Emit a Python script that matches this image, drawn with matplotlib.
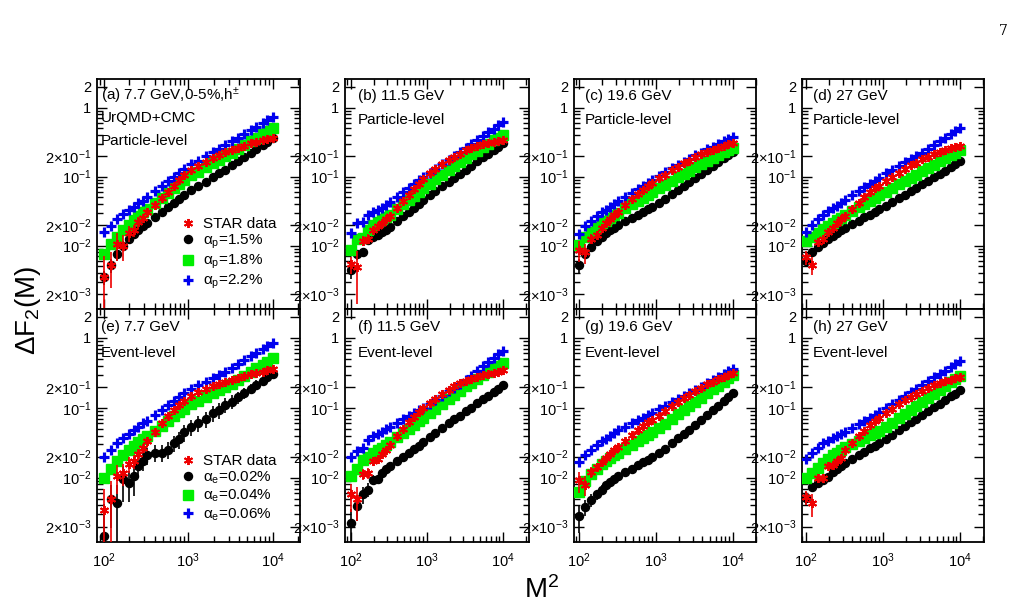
import matplotlib.pyplot as plt
from matplotlib.ticker import FixedLocator, NullFormatter

plt.rcParams['font.family'] = ['Liberation Sans', 'DejaVu Sans']
plt.rcParams['mathtext.fontset'] = 'custom'
plt.rcParams['mathtext.rm'] = 'Liberation Sans'
plt.rcParams['mathtext.it'] = 'Liberation Sans:italic'

# M^2 bins (M = 10 ... 100)
M2 = [100, 121, 144, 169, 196, 225, 256, 289, 324, 400, 484, 576, 676, 784, 900,
      1089, 1296, 1600, 1936, 2304, 2704, 3249, 3844, 4624, 5476, 6400, 7569, 8649, 10000]

# ---- (a) 7.7 GeV particle-level
star_a = [0.00347, 0.00525, 0.0105, 0.0100, 0.0151, 0.0166, 0.0219, 0.0251, 0.0304, 0.0391, 0.0492, 0.0605, 0.0735, 0.0877, 0.104,
          0.126, 0.143, 0.164, 0.184, 0.204, 0.224, 0.245, 0.263, 0.282, 0.302, 0.316, 0.335, 0.351, 0.367]
star_err_a = [0.0035, 0.0028, 0.0045, 0.004, 0.004, 0.0035, 0.004, 0.0035, 0.0035, 0.003, 0.003, 0.003, 0.003, 0.003, 0.003,
              0.003, 0.003, 0.003, 0.003, 0.003, 0.003, 0.003, 0.003, 0.003, 0.003, 0.003, 0.003, 0.003, 0.003]
black_a = [0.00347, 0.00513, 0.00741, 0.0100, 0.0126, 0.0148, 0.0170, 0.0191, 0.0214, 0.0258, 0.0306, 0.0358, 0.0414, 0.0473, 0.0536,
           0.0628, 0.0718, 0.0841, 0.0973, 0.111, 0.125, 0.145, 0.166, 0.193, 0.221, 0.252, 0.289, 0.322, 0.363]
black_err_a = [0.0008, 0.0012, 0.0015, 0.0018, 0.0018, 0.0015, 0.0015, 0.0012, 0.0012, 0.001, 0.001, 0.001, 0.001, 0.001, 0.001,
               0.001, 0.001, 0.001, 0.001, 0.001, 0.001, 0.001, 0.001, 0.001, 0.001, 0.001, 0.001, 0.001, 0.001]
green_a = [0.00759, 0.0105, 0.0132, 0.0166, 0.0200, 0.0234, 0.0269, 0.0302, 0.0339, 0.0413, 0.0494, 0.0581, 0.0676, 0.0776, 0.0885,
           0.104, 0.117, 0.136, 0.155, 0.175, 0.196, 0.223, 0.252, 0.288, 0.324, 0.363, 0.410, 0.452, 0.501]
blue_a = [0.0155, 0.0195, 0.0240, 0.0282, 0.0324, 0.0363, 0.0407, 0.0447, 0.0501, 0.0608, 0.0724, 0.0849, 0.0986, 0.113, 0.128,
          0.150, 0.169, 0.196, 0.224, 0.253, 0.283, 0.323, 0.366, 0.419, 0.474, 0.532, 0.603, 0.665, 0.741]

# ---- (b) 11.5 GeV particle-level
star_b = [0.00537, 0.00490, 0.0117, 0.0126, 0.0166, 0.0191, 0.0214, 0.0240, 0.0271, 0.0348, 0.0439, 0.0540, 0.0655, 0.0782, 0.0923,
          0.112, 0.129, 0.151, 0.174, 0.195, 0.216, 0.240, 0.260, 0.279, 0.295, 0.309, 0.320, 0.331, 0.339]
star_err_b = [0.0015, 0.0035, 0.002, 0.002, 0.002, 0.002, 0.002, 0.002, 0.002, 0.002, 0.002, 0.002, 0.002, 0.002, 0.002,
              0.002, 0.002, 0.002, 0.002, 0.002, 0.002, 0.002, 0.002, 0.002, 0.002, 0.002, 0.002, 0.002, 0.002]
black_b = [0.00447, 0.00741, 0.00794, 0.0120, 0.0132, 0.0141, 0.0155, 0.0166, 0.0186, 0.0224, 0.0265, 0.0308, 0.0355, 0.0405, 0.0457,
           0.0536, 0.0614, 0.0723, 0.0839, 0.0959, 0.109, 0.126, 0.143, 0.166, 0.189, 0.213, 0.243, 0.270, 0.302]
black_err_b = [0.0012, 0.0012, 0.0012, 0.001, 0.001, 0.001, 0.001, 0.001, 0.001, 0.001, 0.001, 0.001, 0.001, 0.001, 0.001,
               0.001, 0.001, 0.001, 0.001, 0.001, 0.001, 0.001, 0.001, 0.001, 0.001, 0.001, 0.001, 0.001, 0.001]
green_b = [0.00851, 0.0126, 0.0129, 0.0170, 0.0200, 0.0219, 0.0240, 0.0263, 0.0281, 0.0337, 0.0397, 0.0461, 0.0530, 0.0601, 0.0676,
           0.0793, 0.0908, 0.107, 0.124, 0.142, 0.161, 0.185, 0.209, 0.237, 0.267, 0.298, 0.335, 0.368, 0.407]
blue_b = [0.0151, 0.0209, 0.0219, 0.0275, 0.0309, 0.0331, 0.0355, 0.0389, 0.0426, 0.0506, 0.0592, 0.0681, 0.0778, 0.0877, 0.0982,
          0.114, 0.130, 0.152, 0.175, 0.199, 0.224, 0.256, 0.292, 0.338, 0.385, 0.436, 0.497, 0.551, 0.617]

# ---- (c) 19.6 GeV particle-level
star_c = [0.00871, 0.00794, 0.0126, 0.0141, 0.0178, 0.0209, 0.0240, 0.0275, 0.0309, 0.0389, 0.0468, 0.0550, 0.0646, 0.0724, 0.0813,
          0.0955, 0.107, 0.123, 0.138, 0.155, 0.170, 0.191, 0.209, 0.229, 0.245, 0.263, 0.282, 0.295, 0.309]
star_err_c = [0.003, 0.0025, 0.002, 0.002, 0.002, 0.002, 0.002, 0.002, 0.002, 0.002, 0.002, 0.002, 0.002, 0.002, 0.002,
              0.002, 0.002, 0.002, 0.002, 0.002, 0.002, 0.002, 0.002, 0.002, 0.002, 0.002, 0.002, 0.002, 0.002]
black_c = [0.00525, 0.00759, 0.00955, 0.0115, 0.0135, 0.0151, 0.0166, 0.0182, 0.0198, 0.0224, 0.0252, 0.0279, 0.0308, 0.0336, 0.0365,
           0.0415, 0.0474, 0.0556, 0.0643, 0.0733, 0.0828, 0.0953, 0.109, 0.126, 0.143, 0.162, 0.185, 0.205, 0.229]
black_err_c = [0.0012, 0.001, 0.001, 0.001, 0.001, 0.001, 0.001, 0.001, 0.001, 0.001, 0.001, 0.001, 0.001, 0.001, 0.001,
               0.001, 0.001, 0.001, 0.001, 0.001, 0.001, 0.001, 0.001, 0.001, 0.001, 0.001, 0.001, 0.001, 0.001]
green_c = [0.0102, 0.0135, 0.0158, 0.0186, 0.0209, 0.0229, 0.0251, 0.0275, 0.0300, 0.0346, 0.0394, 0.0444, 0.0494, 0.0547, 0.0601,
           0.0682, 0.0762, 0.0873, 0.0986, 0.110, 0.122, 0.137, 0.151, 0.168, 0.185, 0.203, 0.224, 0.242, 0.263]
blue_c = [0.0148, 0.0191, 0.0229, 0.0269, 0.0302, 0.0331, 0.0363, 0.0398, 0.0435, 0.0505, 0.0579, 0.0656, 0.0738, 0.0820, 0.0906,
          0.103, 0.115, 0.131, 0.147, 0.164, 0.181, 0.203, 0.223, 0.247, 0.271, 0.296, 0.325, 0.351, 0.380]

# ---- (d) 27 GeV particle-level
star_d = [0.00676, 0.00525, 0.0112, 0.0126, 0.0158, 0.0182, 0.0209, 0.0240, 0.0269, 0.0339, 0.0417, 0.0501, 0.0589, 0.0676, 0.0741,
          0.0851, 0.0977, 0.112, 0.129, 0.145, 0.158, 0.178, 0.195, 0.214, 0.229, 0.243, 0.257, 0.266, 0.275]
star_err_d = [0.0015, 0.0015, 0.0015, 0.0015, 0.0015, 0.0015, 0.0015, 0.0015, 0.0015, 0.0015, 0.0015, 0.0015, 0.0015, 0.0015, 0.0015,
              0.0015, 0.0015, 0.0015, 0.0015, 0.0015, 0.0015, 0.0015, 0.0015, 0.0015, 0.0015, 0.0015, 0.0015, 0.0015, 0.0015]
black_d = [0.00589, 0.00794, 0.00955, 0.0110, 0.0126, 0.0138, 0.0151, 0.0166, 0.0181, 0.0205, 0.0230, 0.0255, 0.0281, 0.0306, 0.0333,
           0.0375, 0.0422, 0.0484, 0.0548, 0.0615, 0.0684, 0.0773, 0.0867, 0.0982, 0.110, 0.122, 0.137, 0.150, 0.166]
black_err_d = [0.001, 0.001, 0.001, 0.001, 0.001, 0.001, 0.001, 0.001, 0.001, 0.001, 0.001, 0.001, 0.001, 0.001, 0.001,
               0.001, 0.001, 0.001, 0.001, 0.001, 0.001, 0.001, 0.001, 0.001, 0.001, 0.001, 0.001, 0.001, 0.001]
green_d = [0.0115, 0.0132, 0.0151, 0.0174, 0.0195, 0.0214, 0.0234, 0.0251, 0.0274, 0.0314, 0.0356, 0.0400, 0.0445, 0.0490, 0.0537,
           0.0607, 0.0676, 0.0769, 0.0867, 0.0964, 0.107, 0.120, 0.133, 0.149, 0.166, 0.184, 0.204, 0.222, 0.245]
blue_d = [0.0158, 0.0200, 0.0240, 0.0275, 0.0316, 0.0347, 0.0380, 0.0417, 0.0455, 0.0532, 0.0612, 0.0695, 0.0783, 0.0875, 0.0968,
          0.111, 0.124, 0.142, 0.160, 0.179, 0.198, 0.223, 0.253, 0.290, 0.328, 0.368, 0.417, 0.460, 0.513]

# ---- (e) 7.7 GeV event-level
star_e = [0.00347, 0.00490, 0.0105, 0.0117, 0.0158, 0.0174, 0.0219, 0.0263, 0.0339, 0.0457, 0.0603, 0.0759, 0.0933, 0.110, 0.126,
          0.148, 0.166, 0.186, 0.204, 0.221, 0.237, 0.254, 0.269, 0.285, 0.302, 0.316, 0.331, 0.347, 0.359]
star_err_e = [0.0035, 0.004, 0.0047, 0.004, 0.004, 0.004, 0.004, 0.004, 0.004, 0.004, 0.004, 0.004, 0.004, 0.004, 0.004,
              0.004, 0.004, 0.004, 0.004, 0.004, 0.004, 0.004, 0.004, 0.004, 0.004, 0.004, 0.004, 0.004, 0.004]
black_e = [0.00145, 0.00490, 0.00437, 0.00955, 0.00851, 0.0105, 0.0148, 0.0174, 0.0209, 0.0229, 0.0229, 0.0251, 0.0316, 0.0355, 0.0447,
           0.0535, 0.0611, 0.0692, 0.0851, 0.0933, 0.110, 0.123, 0.141, 0.164, 0.188, 0.214, 0.246, 0.274, 0.309]
black_err_e = [0.0028, 0.003, 0.0035, 0.005, 0.004, 0.005, 0.005, 0.005, 0.0056, 0.0062, 0.0062, 0.0068, 0.0085, 0.0096, 0.012,
               0.014, 0.016, 0.018, 0.022, 0.024, 0.027, 0.028, 0.029, 0.03, 0.03, 0.033, 0.037, 0.04, 0.045]
green_e = [0.0100, 0.0135, 0.0174, 0.0214, 0.0251, 0.0288, 0.0324, 0.0355, 0.0389, 0.0470, 0.0557, 0.0652, 0.0753, 0.0861, 0.0975,
           0.113, 0.126, 0.143, 0.161, 0.179, 0.199, 0.223, 0.253, 0.290, 0.328, 0.368, 0.417, 0.460, 0.513]
blue_e = [0.0195, 0.0251, 0.0316, 0.0372, 0.0417, 0.0479, 0.0525, 0.0603, 0.0646, 0.0780, 0.0925, 0.108, 0.125, 0.143, 0.162,
          0.187, 0.209, 0.238, 0.268, 0.298, 0.330, 0.371, 0.420, 0.481, 0.545, 0.611, 0.692, 0.764, 0.851]

# ---- (f) 11.5 GeV event-level
star_f = [0.00575, 0.00490, 0.0112, 0.0117, 0.0174, 0.0186, 0.0219, 0.0251, 0.0295, 0.0389, 0.0501, 0.0617, 0.0741, 0.0871, 0.100,
          0.117, 0.135, 0.158, 0.182, 0.204, 0.224, 0.240, 0.257, 0.275, 0.292, 0.305, 0.320, 0.331, 0.343]
star_err_f = [0.0025, 0.0025, 0.002, 0.002, 0.002, 0.002, 0.002, 0.002, 0.002, 0.002, 0.002, 0.002, 0.002, 0.002, 0.002,
              0.002, 0.002, 0.002, 0.002, 0.002, 0.002, 0.002, 0.002, 0.002, 0.002, 0.002, 0.002, 0.002, 0.002]
black_f = [0.00224, 0.00389, 0.00575, 0.00676, 0.00933, 0.00955, 0.0115, 0.0132, 0.0145, 0.0174, 0.0200, 0.0229, 0.0257, 0.0288, 0.0324,
           0.0380, 0.0437, 0.0513, 0.0603, 0.0692, 0.0776, 0.0891, 0.101, 0.116, 0.132, 0.148, 0.170, 0.186, 0.209]
black_err_f = [0.0013, 0.0015, 0.0015, 0.0015, 0.0015, 0.0015, 0.0015, 0.0015, 0.0015, 0.0015, 0.0016, 0.0018, 0.002, 0.0023, 0.0026,
               0.003, 0.0035, 0.004, 0.0048, 0.0055, 0.006, 0.007, 0.008, 0.009, 0.01, 0.011, 0.012, 0.013, 0.014]
green_f = [0.0107, 0.0132, 0.0178, 0.0195, 0.0224, 0.0245, 0.0269, 0.0295, 0.0323, 0.0380, 0.0441, 0.0505, 0.0571, 0.0641, 0.0714,
           0.0832, 0.0962, 0.114, 0.133, 0.154, 0.175, 0.203, 0.229, 0.259, 0.291, 0.324, 0.365, 0.400, 0.442]
blue_f = [0.0195, 0.0240, 0.0269, 0.0347, 0.0398, 0.0427, 0.0457, 0.0490, 0.0533, 0.0607, 0.0684, 0.0760, 0.0841, 0.0920, 0.100,
          0.114, 0.129, 0.150, 0.173, 0.195, 0.219, 0.251, 0.290, 0.340, 0.394, 0.450, 0.520, 0.583, 0.661]

# ---- (g) 19.6 GeV event-level
star_g = [0.00912, 0.00794, 0.0120, 0.0141, 0.0166, 0.0191, 0.0219, 0.0245, 0.0275, 0.0339, 0.0407, 0.0479, 0.0550, 0.0617, 0.0676,
          0.0776, 0.0891, 0.105, 0.123, 0.138, 0.155, 0.176, 0.195, 0.216, 0.237, 0.257, 0.279, 0.299, 0.320]
star_err_g = [0.003, 0.0025, 0.002, 0.002, 0.002, 0.002, 0.002, 0.002, 0.002, 0.002, 0.002, 0.002, 0.002, 0.002, 0.002,
              0.002, 0.002, 0.002, 0.002, 0.002, 0.002, 0.002, 0.002, 0.002, 0.002, 0.002, 0.002, 0.002, 0.002]
black_g = [0.00282, 0.00380, 0.00479, 0.00575, 0.00676, 0.00776, 0.00871, 0.00955, 0.0106, 0.0121, 0.0135, 0.0150, 0.0165, 0.0180, 0.0196,
           0.0224, 0.0260, 0.0310, 0.0364, 0.0421, 0.0482, 0.0564, 0.0661, 0.0785, 0.0920, 0.107, 0.125, 0.142, 0.162]
black_err_g = [0.0012, 0.001, 0.001, 0.001, 0.001, 0.001, 0.001, 0.001, 0.001, 0.001, 0.001, 0.001, 0.001, 0.001, 0.001,
               0.001, 0.001, 0.001, 0.001, 0.001, 0.001, 0.001, 0.001, 0.001, 0.001, 0.001, 0.001, 0.001, 0.001]
green_g = [0.00631, 0.00891, 0.0112, 0.0135, 0.0155, 0.0174, 0.0191, 0.0209, 0.0228, 0.0261, 0.0296, 0.0333, 0.0370, 0.0407, 0.0447,
           0.0513, 0.0589, 0.0697, 0.0813, 0.0933, 0.106, 0.123, 0.140, 0.162, 0.185, 0.208, 0.238, 0.264, 0.295]
blue_g = [0.0166, 0.0209, 0.0251, 0.0295, 0.0331, 0.0363, 0.0398, 0.0437, 0.0474, 0.0536, 0.0598, 0.0662, 0.0726, 0.0793, 0.0857,
          0.0957, 0.106, 0.120, 0.134, 0.148, 0.163, 0.181, 0.200, 0.225, 0.249, 0.275, 0.305, 0.332, 0.363]

# ---- (h) 27 GeV event-level
star_h = [0.00525, 0.00427, 0.00977, 0.00977, 0.0148, 0.0151, 0.0174, 0.0191, 0.0251, 0.0316, 0.0389, 0.0468, 0.0562, 0.0646, 0.0724,
          0.0851, 0.0977, 0.112, 0.129, 0.145, 0.158, 0.176, 0.193, 0.209, 0.224, 0.240, 0.254, 0.266, 0.275]
star_err_h = [0.0012, 0.0015, 0.0015, 0.0015, 0.0015, 0.0015, 0.0015, 0.0015, 0.0015, 0.0015, 0.0015, 0.0015, 0.0015, 0.0015, 0.0015,
              0.0015, 0.0015, 0.0015, 0.0015, 0.0015, 0.0015, 0.0015, 0.0015, 0.0015, 0.0015, 0.0015, 0.0015, 0.0015, 0.0015]
black_h = [0.00513, 0.00741, 0.00832, 0.00912, 0.0102, 0.0120, 0.0132, 0.0145, 0.0161, 0.0185, 0.0210, 0.0236, 0.0262, 0.0288, 0.0316,
           0.0361, 0.0408, 0.0475, 0.0546, 0.0618, 0.0693, 0.0793, 0.0893, 0.102, 0.115, 0.129, 0.146, 0.160, 0.178]
black_err_h = [0.0012, 0.001, 0.001, 0.001, 0.001, 0.001, 0.001, 0.001, 0.001, 0.001, 0.001, 0.001, 0.001, 0.001, 0.001,
               0.001, 0.001, 0.001, 0.001, 0.001, 0.001, 0.001, 0.001, 0.001, 0.001, 0.001, 0.001, 0.001, 0.001]
green_h = [0.00977, 0.0115, 0.0138, 0.0162, 0.0186, 0.0209, 0.0229, 0.0251, 0.0273, 0.0305, 0.0339, 0.0372, 0.0406, 0.0440, 0.0473,
           0.0535, 0.0611, 0.0716, 0.0828, 0.0944, 0.107, 0.123, 0.140, 0.160, 0.182, 0.206, 0.233, 0.258, 0.288]
blue_h = [0.0186, 0.0229, 0.0269, 0.0309, 0.0339, 0.0372, 0.0398, 0.0427, 0.0454, 0.0519, 0.0586, 0.0655, 0.0726, 0.0798, 0.0873,
          0.0991, 0.112, 0.130, 0.148, 0.167, 0.187, 0.213, 0.240, 0.273, 0.307, 0.342, 0.385, 0.423, 0.468]

labels_p = ['STAR data', 'α$_\\mathregular{p}$=1.5%', 'α$_\\mathregular{p}$=1.8%', 'α$_\\mathregular{p}$=2.2%']
labels_e = ['STAR data', 'α$_\\mathregular{e}$=0.02%', 'α$_\\mathregular{e}$=0.04%', 'α$_\\mathregular{e}$=0.06%']

panels = [
    (star_a, star_err_a, black_a, black_err_a, green_a, blue_a, ['(a) 7.7 GeV,0-5%,h$^{\\pm}$', 'UrQMD+CMC', 'Particle-level']),
    (star_b, star_err_b, black_b, black_err_b, green_b, blue_b, ['(b) 11.5 GeV', 'Particle-level']),
    (star_c, star_err_c, black_c, black_err_c, green_c, blue_c, ['(c) 19.6 GeV', 'Particle-level']),
    (star_d, star_err_d, black_d, black_err_d, green_d, blue_d, ['(d) 27 GeV', 'Particle-level']),
    (star_e, star_err_e, black_e, black_err_e, green_e, blue_e, ['(e) 7.7 GeV', 'Event-level']),
    (star_f, star_err_f, black_f, black_err_f, green_f, blue_f, ['(f) 11.5 GeV', 'Event-level']),
    (star_g, star_err_g, black_g, black_err_g, green_g, blue_g, ['(g) 19.6 GeV', 'Event-level']),
    (star_h, star_err_h, black_h, black_err_h, green_h, blue_h, ['(h) 27 GeV', 'Event-level']),
]

W, H = 1011, 607
fig = plt.figure(figsize=(W / 100, H / 100), dpi=100)

# panel geometry in pixels (left, right) per column, (top, bottom) per row
cols = [(97, 300), (345, 529), (574, 756), (802, 984)]
rows = [(79, 309), (309, 542)]
xlims = [(83, 2.1e4), (84, 2.2e4), (86, 2.0e4), (89, 2.05e4)]
text_dx = [4, 13, 11, 11]

ymaj = [2e-3, 1e-2, 2e-2, 1e-1, 2e-1, 1, 2]
ymaj_lab = ['2×10$^{-3}$', '10$^{-2}$', '2×10$^{-2}$', '10$^{-1}$', '2×10$^{-1}$', '1', '2']
ymin = [1e-3] + [k * 1e-3 for k in range(3, 10)] + [k * 1e-2 for k in range(3, 10)] + \
       [k * 1e-1 for k in range(3, 10)]

for i, (star, star_err, black, black_err, green, blue, texts) in enumerate(panels):
    r, c = divmod(i, 4)
    x0, x1 = cols[c]
    y0, y1 = rows[r]
    ax = fig.add_axes([x0 / W, 1 - y1 / H, (x1 - x0) / W, (y1 - y0) / H])
    ax.set_xscale('log')
    ax.set_yscale('log')

    h_black = ax.errorbar(M2, black, yerr=black_err, fmt='o', color='black', ms=5.8,
                          elinewidth=1.2, capsize=0, zorder=2)
    h_green, = ax.plot(M2, green, 's', color='#00ee00', ms=6.8, mec='#00ee00', zorder=3)
    h_blue, = ax.plot(M2, blue, '+', color='#0000ee', ms=7.5, mew=2.3, zorder=4)
    ax.errorbar(M2, star, yerr=star_err, fmt='none', ecolor='#ee0000',
                elinewidth=1.2, capsize=0, zorder=5)
    h_star, = ax.plot(M2, star, marker=(6, 2, 0), ls='none', color='#ee0000',
                      ms=6.5, mew=1.4, zorder=6)

    ax.set_xlim(*xlims[c])
    ax.set_ylim(1.2e-3, 2.6)

    ax.xaxis.set_major_locator(FixedLocator([1e2, 1e3, 1e4]))
    ax.xaxis.set_minor_locator(FixedLocator([k * 10 ** e for e in (1, 2, 3, 4) for k in range(2, 10)]))
    ax.xaxis.set_minor_formatter(NullFormatter())
    if r == 1:
        ax.set_xticklabels(['10$^2$', '10$^3$', '10$^4$'])
    else:
        ax.set_xticklabels([])
    ax.yaxis.set_major_locator(FixedLocator(ymaj))
    ax.yaxis.set_minor_locator(FixedLocator(ymin))
    ax.yaxis.set_minor_formatter(NullFormatter())
    ax.set_yticklabels(ymaj_lab)

    ax.tick_params(which='both', direction='in', top=True, right=True, labelsize=10.5,
                   width=1.0, color='black')
    ax.tick_params(which='major', length=7, pad=4)
    ax.tick_params(which='minor', length=4)
    ax.tick_params(axis='x', which='major', pad=7)
    for s in ax.spines.values():
        s.set_linewidth(1.3)

    h = y1 - y0
    w = x1 - x0
    if i == 0:
        offs = [17, 39, 62]
    elif r == 0:
        offs = [17, 41]
    else:
        offs = [18, 44]
    for t, dy in zip(texts, offs):
        ax.text(text_dx[c] / w, 1 - dy / h, t, transform=ax.transAxes, fontsize=11,
                ha='left', va='center')

    if c == 0:
        labs = labels_p if r == 0 else labels_e
        ytop = (309 - 217) / 230 if r == 0 else (542 - 454) / 233
        ax.legend([h_star, h_black[0], h_green, h_blue], labs, loc='upper left',
                  bbox_to_anchor=(0.41, ytop), frameon=False, fontsize=11,
                  handlelength=1.0, handletextpad=0.5, labelspacing=0.12,
                  borderpad=0, borderaxespad=0)

fig.text(28 / W, 1 - 310 / H, 'ΔF$_2$(M)', rotation=90, fontsize=20, ha='center', va='center')
fig.text(542 / W, 1 - 590 / H, 'M$^2$', fontsize=20, ha='center', va='center')
fig.text(1003 / W, 1 - 31 / H, '7', fontsize=10, family='DejaVu Serif', ha='center', va='center')

fig.savefig('out.png', dpi=100)
